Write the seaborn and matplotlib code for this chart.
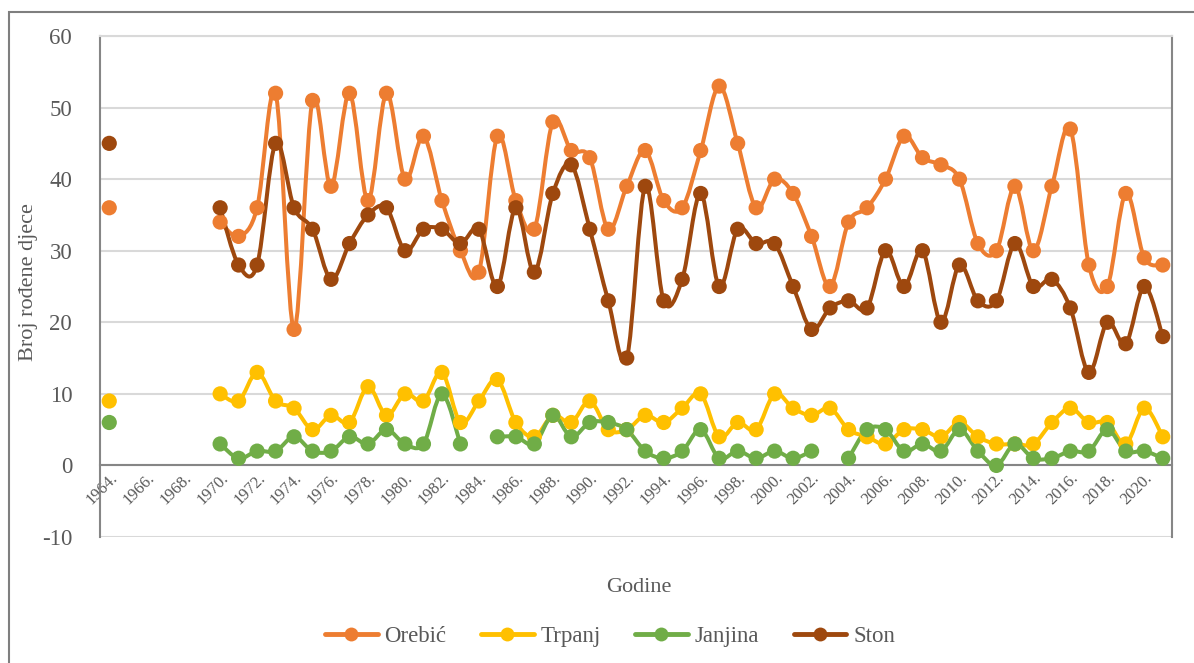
import numpy as np
import pandas as pd
import matplotlib
matplotlib.use("Agg")
import matplotlib.pyplot as plt
import seaborn as sns
from matplotlib.path import Path
from matplotlib.patches import PathPatch, Rectangle
from matplotlib.lines import Line2D
import matplotlib.transforms as mtransforms

# data (1965-1969 have no values)
years = list(range(1964, 2022))
gap = [None] * 5

orebic = [36] + gap + [34, 32, 36, 52, 19, 51, 39, 52, 37, 52,
                       40, 46, 37, 30, 27, 46, 37, 33, 48, 44,
                       43, 33, 39, 44, 37, 36, 44, 53, 45, 36,
                       40, 38, 32, 25, 34, 36, 40, 46, 43, 42,
                       40, 31, 30, 39, 30, 39, 47, 28, 25, 38,
                       29, 28]
trpanj = [9] + gap + [10, 9, 13, 9, 8, 5, 7, 6, 11, 7,
                      10, 9, 13, 6, 9, 12, 6, 4, 7, 6,
                      9, 5, 5, 7, 6, 8, 10, 4, 6, 5,
                      10, 8, 7, 8, 5, 4, 3, 5, 5, 4,
                      6, 4, 3, 3, 3, 6, 8, 6, 6, 3,
                      8, 4]
janjina = [6] + gap + [3, 1, 2, 2, 4, 2, 2, 4, 3, 5,
                       3, 3, 10, 3, None, 4, 4, 3, 7, 4,
                       6, 6, 5, 2, 1, 2, 5, 1, 2, 1,
                       2, 1, 2, None, 1, 5, 5, 2, 3, 2,
                       5, 2, 0, 3, 1, 1, 2, 2, 5, 2,
                       2, 1]
ston = [45] + gap + [36, 28, 28, 45, 36, 33, 26, 31, 35, 36,
                     30, 33, 33, 31, 33, 25, 36, 27, 38, 42,
                     33, 23, 15, 39, 23, 26, 38, 25, 33, 31,
                     31, 25, 19, 22, 23, 22, 30, 25, 30, 20,
                     28, 23, 23, 31, 25, 26, 22, 13, 20, 17,
                     25, 18]

series = {"Orebić": orebic, "Trpanj": trpanj, "Janjina": janjina, "Ston": ston}
colors = {"Orebić": "#ED7D31", "Trpanj": "#FFC000", "Janjina": "#70AD47", "Ston": "#9E480E"}

df = pd.DataFrame({"Godina": years, **series})
long_df = df.melt(id_vars="Godina", var_name="Mjesto", value_name="Broj").dropna()

sns.set_theme(style="white")
plt.rcParams["font.family"] = ["Liberation Serif", "DejaVu Serif"]
plt.rcParams["axes.unicode_minus"] = False
text_col = "#595959"

fig = plt.figure(figsize=(11.94, 6.63), dpi=100)
W, H = 1194, 663
ax = fig.add_axes([100 / W, 1 - 537 / H, (1172 - 100) / W, (537 - 36) / H])


def smooth_path(xs, ys):
    # Excel-style smoothed line: cubic bezier through the points
    pts = np.column_stack([xs, ys]).astype(float)
    verts = [pts[0]]
    codes = [Path.MOVETO]
    n = len(pts)
    for i in range(n - 1):
        p0 = pts[max(i - 1, 0)]
        p1 = pts[i]
        p2 = pts[i + 1]
        p3 = pts[min(i + 2, n - 1)]
        verts += [p1 + (p2 - p0) / 6, p2 - (p3 - p1) / 6, p2]
        codes += [Path.CURVE4] * 3
    return Path(verts, codes)


for name, vals in series.items():
    s = pd.Series(vals, index=years, dtype=float)
    grp = s.isna().cumsum()
    for _, seg in s.dropna().groupby(grp[s.notna()]):
        if len(seg) < 2:
            continue
        patch = PathPatch(smooth_path(seg.index.values, seg.values), fill=False,
                          edgecolor=colors[name], lw=2.9, capstyle="round",
                          joinstyle="round", zorder=3)
        ax.add_patch(patch)

sns.scatterplot(data=long_df, x="Godina", y="Broj", hue="Mjesto", palette=colors,
                s=120, linewidth=0, legend=False, ax=ax, zorder=4)

ax.set_xlim(1964 - 0.5, 2021 + 0.5)
ax.set_ylim(-10, 60)
ax.set_yticks(range(-10, 61, 10))
ax.yaxis.grid(True, color="#d9d9d9", lw=1.5)
ax.set_axisbelow(True)

ax.spines["bottom"].set_position(("data", 0))
ax.spines["bottom"].set_color("#868686")
ax.spines["bottom"].set_linewidth(1.5)
for side in ["left", "right"]:
    ax.spines[side].set_color("#868686")
    ax.spines[side].set_linewidth(1.5)
ax.spines["top"].set_color("#d9d9d9")
ax.spines["top"].set_linewidth(1.5)
ax.axhline(-10, color="#d9d9d9", lw=2, zorder=1)

tick_years = years[::2]
ax.set_xticks(tick_years)
ax.set_xticklabels([f"{y}." for y in tick_years], rotation=45, ha="right",
                   va="top", rotation_mode="anchor", fontsize=12, color=text_col)
offset = mtransforms.ScaledTranslation(7 / 100, -6 / 100, fig.dpi_scale_trans)
for lab in ax.get_xticklabels():
    lab.set_transform(lab.get_transform() + offset)
ax.tick_params(axis="both", length=0)
ax.tick_params(axis="y", pad=20, labelsize=16.5, labelcolor=text_col)
ax.set_xlabel("")
ax.set_ylabel("")

fig.text(29 / W, 1 - 282 / H, "Broj rođene djece", rotation=90, ha="center",
         va="center", fontsize=16, color=text_col)
fig.text(639 / W, 1 - 588 / H, "Godine", ha="center", va="center",
         fontsize=16, color=text_col)

handles = [Line2D([0], [0], color=colors[k], lw=3.5, marker="o", markersize=10,
                  markeredgewidth=0) for k in series]
fig.legend(handles, list(series.keys()), loc="center", ncol=4,
           bbox_to_anchor=(610 / W, 1 - 636 / H), frameon=False, fontsize=16.5,
           labelcolor=text_col, handlelength=2.3, handletextpad=0.3,
           columnspacing=1.5)

fig.patches.append(Rectangle((9 / W, -0.1), 1.2, 1.1 - 12 / H, transform=fig.transFigure,
                             fill=False, edgecolor="#7f7f7f", lw=1.5))

fig.savefig("out.png", dpi=100)
